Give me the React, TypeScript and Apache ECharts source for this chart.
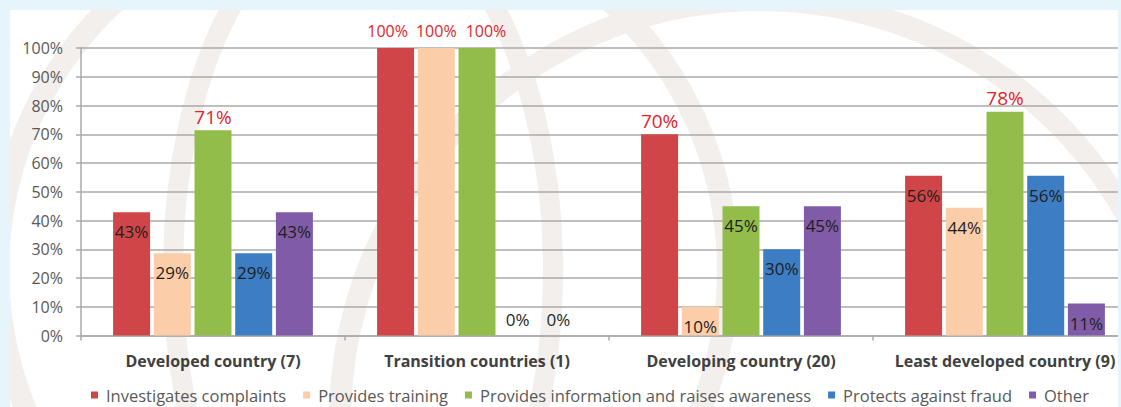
import React, { useEffect, useRef } from "react";
import * as echarts from "echarts";

const categories = [
  "Developed country (7)",
  "Transition countries (1)",
  "Developing country (20)",
  "Least developed country (9)",
];
const seriesNames = [
  "Investigates complaints",
  "Provides training",
  "Provides information and raises awareness",
  "Protects against fraud",
  "Other",
];
const investigates = [42.9, 100, 70, 55.6];
const training = [28.6, 100, 10, 44.4];
const awareness = [71.4, 100, 45, 77.8];
const fraud = [28.6, 0, 30, 55.6];
const other = [42.9, 0, 45, 11.1];
const yTicks = [0, 10, 20, 30, 40, 50, 60, 70, 80, 90, 100];

const colors = ["#D04648", "#FCCDA9", "#92BD4A", "#3D7DC3", "#805CA8"];
const FONT = "'Open Sans', 'DejaVu Sans', sans-serif";

export default function App() {
  const ref = useRef<HTMLDivElement>(null);
  useEffect(() => {
    document.body.style.margin = "0";
    if (!ref.current) return;
    const chart = echarts.init(ref.current, undefined, { renderer: "svg" });
    const all = [investigates, training, awareness, fraud, other];
    const maxes = categories.map((_, i) => Math.max(...all.map((s) => s[i])));
    const topIdx = categories.map((_, ci) =>
      all.map((s, si) => (s[ci] === maxes[ci] ? si : -1)).filter((x) => x >= 0)
    );

    const series = all.map((vals, si) => ({
      name: seriesNames[si],
      type: "bar",
      barWidth: 37,
      barGap: "10%",
      itemStyle: { color: colors[si] },
      data: vals.map((v, ci) => {
        let label: any;
        if (v === maxes[ci]) {
          const group = topIdx[ci];
          const multi = group.length > 1;
          const pos = group.indexOf(si);
          let dx = 0;
          if (multi) {
            if (pos === 0) dx = -8;
            else if (pos === group.length - 1) dx = 9;
          }
          label = {
            show: true,
            position: "top",
            distance: multi ? 9 : 4,
            offset: [dx, 0],
            color: "#E8232A",
            fontSize: multi ? 16 : 19,
            fontFamily: FONT,
          };
        } else if (v === 0) {
          label = {
            show: true,
            position: "top",
            distance: 8,
            color: "#262626",
            fontSize: 17,
            fontFamily: FONT,
          };
        } else {
          label = {
            show: true,
            position: "insideTop",
            distance: 11,
            color: "#1E1E1E",
            fontSize: 17,
            fontFamily: FONT,
          };
        }
        return { value: v, label };
      }),
      label: {
        show: true,
        formatter: (p: any) => Math.round(p.value) + "%",
      },
    }));

    const bg = "#E6F5FC";
    const wm = "#F2EFEC";
    chart.setOption({
      animation: false,
      backgroundColor: bg,
      textStyle: { fontFamily: FONT },
      graphic: [
        {
          type: "rect",
          shape: { x: 10, y: 10, width: 1108, height: 400 },
          style: { fill: "#ffffff" },
          z: -20,
          silent: true,
        },
        {
          type: "circle",
          shape: { cx: 363, cy: 270, r: 365 },
          style: { fill: "none", stroke: wm, lineWidth: 22 },
          z: -5,
          silent: true,
        },
        {
          type: "ellipse",
          shape: { cx: 363, cy: 270, rx: 190, ry: 365 },
          style: { fill: "none", stroke: wm, lineWidth: 20 },
          z: -5,
          silent: true,
        },
        {
          type: "circle",
          shape: { cx: 760, cy: 420, r: 420 },
          style: { fill: "none", stroke: wm, lineWidth: 22 },
          z: -5,
          silent: true,
        },
        {
          type: "rect",
          shape: { x: 0, y: 0, width: 1140, height: 10 },
          style: { fill: bg },
          z: 100,
          silent: true,
        },
        {
          type: "rect",
          shape: { x: 0, y: 0, width: 10, height: 407 },
          style: { fill: bg },
          z: 100,
          silent: true,
        },
        {
          type: "rect",
          shape: { x: 1118, y: 0, width: 30, height: 407 },
          style: { fill: bg },
          z: 100,
          silent: true,
        },
      ],
      grid: { left: 81, width: 1056, top: 48, bottom: 71.5 },
      legend: {
        left: 86,
        top: 379,
        itemWidth: 7,
        itemHeight: 7,
        itemGap: 17,
        icon: "rect",
        textStyle: {
          fontSize: 16.5,
          color: "#595959",
          fontFamily: FONT,
          lineHeight: 22,
          padding: [0, 0, 0, 3],
        },
        data: seriesNames,
      },
      xAxis: {
        type: "category",
        data: categories,
        axisLine: { lineStyle: { color: "#AAAAAA", width: 1.5 } },
        axisTick: {
          show: true,
          length: 5,
          interval: 0,
          lineStyle: { color: "#AAAAAA", width: 1.5 },
        },
        axisLabel: {
          interval: 0,
          margin: 17,
          fontSize: 16,
          fontWeight: "bold",
          color: "#404040",
          fontFamily: FONT,
        },
      },
      yAxis: {
        type: "value",
        min: yTicks[0],
        max: yTicks[yTicks.length - 1],
        interval: 10,
        axisLine: { show: true, lineStyle: { color: "#AAAAAA", width: 1.5 } },
        axisTick: {
          show: true,
          length: 5,
          lineStyle: { color: "#AAAAAA", width: 1.5 },
        },
        splitLine: { lineStyle: { color: "#AAAAAA", width: 1.5 } },
        axisLabel: {
          formatter: "{value}%",
          margin: 18,
          fontSize: 16,
          color: "#595959",
          fontFamily: FONT,
        },
      },
      series,
    });
    return () => chart.dispose();
  }, []);
  return (
    <div style={{ width: 1121, height: 407, overflow: "hidden" }}>
      <div ref={ref} style={{ width: 1140, height: 407 }} />
    </div>
  );
}
